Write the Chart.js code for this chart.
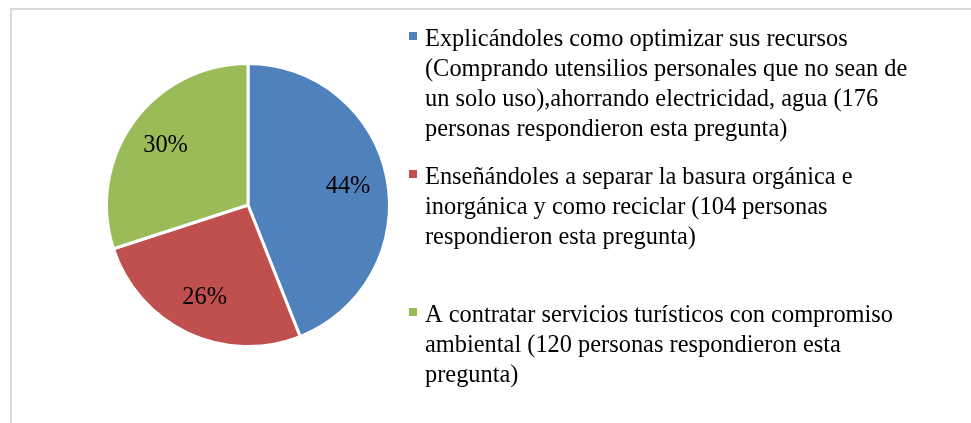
<!DOCTYPE html>
<html>
<head>
<meta charset="utf-8">
<script src="https://cdn.jsdelivr.net/npm/chart.js@4/dist/chart.umd.min.js"></script>
<style>
  body { margin: 0; background: #fff; }
  #wrap { width: 971px; height: 423px; position: relative; }
</style>
</head>
<body>
<div id="wrap"><canvas id="chart"></canvas></div>
<script>
// datos
const categorias = [
    'Explicándoles como optimizar sus recursos (Comprando utensilios personales que no sean de un solo uso),ahorrando electricidad, agua (176 personas respondieron esta pregunta)',
    'Enseñándoles a separar la basura orgánica e inorgánica y como reciclar (104 personas respondieron esta pregunta)',
    'A contratar servicios turísticos con compromiso ambiental (120 personas respondieron esta pregunta)'
];
const personas = [176, 104, 120];
const colores = ['#4F81BD', '#C0504D', '#9BBB59'];

const fuente = "'Liberation Serif', 'Times New Roman', serif";
const estirar = 1.07; // el texto del original sale un poco mas alto

// corta un texto en lineas segun el ancho disponible
function wrapText(ctx, text, maxWidth){
    let words = text.split(' ');
    let lines = [];
    let line = '';
    for (let i = 0; i < words.length; i++){
        let test = line ? line + ' ' + words[i] : words[i];
        if (ctx.measureText(test).width > maxWidth && line){
            lines.push(line);
            line = words[i];
        } else {
            line = test;
        }
    }
    if (line) lines.push(line);
    return lines;
}

function drawText(ctx, txt, x, y){
    ctx.save();
    ctx.translate(x, y);
    ctx.scale(1, estirar);
    ctx.fillText(txt, 0, 0);
    ctx.restore();
}

// marco gris, porcentajes y leyenda
const extras = {
    id: 'extras',
    beforeDraw(chart){
        const ctx = chart.ctx;
        ctx.save();
        ctx.fillStyle = '#d9d9d9';
        ctx.fillRect(10, 8, chart.width - 10, 2);
        ctx.fillRect(10, 8, 2, chart.height - 8);
        ctx.restore();
    },
    afterDraw(chart){
        const ctx = chart.ctx;
        const meta = chart.getDatasetMeta(0);
        const total = personas.reduce((a, b) => a + b, 0);

        ctx.save();
        ctx.font = '24.4px ' + fuente;
        ctx.fillStyle = '#000';
        ctx.textAlign = 'center';
        ctx.textBaseline = 'middle';
        meta.data.forEach(function(arc, i){
            const p = arc.getProps(['x', 'y', 'startAngle', 'endAngle', 'outerRadius'], true);
            const mid = (p.startAngle + p.endAngle) / 2;
            const r = p.outerRadius * 0.72;
            const pct = Math.round(personas[i] / total * 100) + '%';
            drawText(ctx, pct, p.x + Math.cos(mid) * r, p.y + Math.sin(mid) * r);
        });

        // leyenda a la derecha
        const x0 = 425;
        const lineH = 30;
        const maxW = 495;
        ctx.textAlign = 'left';
        ctx.textBaseline = 'alphabetic';
        const wrapped = categorias.map(c => wrapText(ctx, c, maxW));
        const maxLines = Math.max(...wrapped.map(l => l.length));
        const slot = maxLines * lineH + 18;
        let y = 46;
        wrapped.forEach(function(lines, i){
            ctx.fillStyle = colores[i];
            ctx.fillRect(x0 - 16, y - 14, 8, 8);
            ctx.fillStyle = '#000';
            lines.forEach(function(l, j){
                drawText(ctx, l, x0, y + j * lineH);
            });
            y += slot;
        });
        ctx.restore();
    }
};

const chartData = {
    labels: categorias,
    datasets: [{
        data: personas,
        backgroundColor: colores,
        borderColor: '#ffffff',
        borderWidth: 3,
        hoverBorderWidth: 3,
        hoverOffset: 0
    }]
};

const chartOptions = {
    responsive: true,
    maintainAspectRatio: false,
    animation: false,
    events: [],
    layout: {
        padding: { left: 105, top: 62, right: 580, bottom: 75 }
    },
    plugins: {
        legend: { display: false },
        tooltip: { enabled: false }
    }
};

new Chart(document.getElementById('chart'), {
    type: 'pie',
    data: chartData,
    options: chartOptions,
    plugins: [extras]
});
</script>
</body>
</html>
